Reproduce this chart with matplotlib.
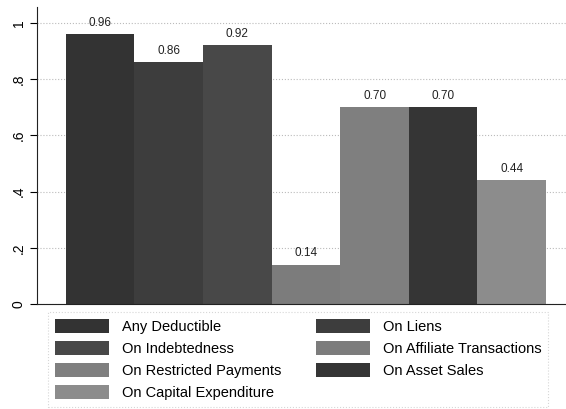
import numpy as np
import matplotlib.pyplot as plt

plt.rcParams['font.family'] = ['Liberation Sans', 'DejaVu Sans']

# data
labels = ['Any Deductible', 'On Liens', 'On Indebtedness',
          'On Affiliate Transactions', 'On Restricted Payments',
          'On Asset Sales', 'On Capital Expenditure']
values = [0.96, 0.86, 0.92, 0.14, 0.70, 0.70, 0.44]
colors = ['#333333', '#3d3d3d', '#484848', '#7c7c7c', '#7f7f7f', '#353535', '#8c8c8c']

yticks = [0, 0.2, 0.4, 0.6, 0.8, 1.0]
ytick_labels = ['0', '.2', '.4', '.6', '.8', '1']

fig = plt.figure(figsize=(5.66, 4.09), dpi=100)
ax = fig.add_axes([37/566, 105/409, 529/566, 297/409])

x = np.arange(len(values))
bars = []
for i in range(len(values)):
    b = ax.bar(x[i], values[i], width=1.0, color=colors[i], label=labels[i],
               zorder=2, linewidth=0)
    bars.append(b)
    ax.bar_label(b, fmt='%.2f', padding=4, fontsize=8.5, color='#222222')

ax.set_xlim(-0.92, 6.79)
ax.set_ylim(0, 1.057)
ax.set_yticks(yticks)
ax.set_yticklabels(ytick_labels, rotation=90, va='center', fontsize=10)
ax.set_xticks([])
ax.tick_params(axis='y', length=5, width=0.8, pad=3)
ax.yaxis.grid(True, linestyle=':', color='#bbbbbb', linewidth=0.8, zorder=0)

ax.spines['top'].set_visible(False)
ax.spines['right'].set_visible(False)
ax.spines['left'].set_color('#222222')
ax.spines['bottom'].set_color('#222222')

# Stata fills legend row-wise; matplotlib fills column-wise
order = [0, 2, 4, 6, 1, 3, 5]
handles = [bars[i] for i in order]
names = [labels[i] for i in order]
leg = fig.legend(handles, names, ncol=2, loc='upper left',
                 bbox_to_anchor=(48/566, (409-312)/409),
                 fontsize=10.5, handlelength=3.7, handleheight=1.1,
                 handletextpad=0.9, labelspacing=0.5, borderaxespad=0,
                 borderpad=0.45, fancybox=False, frameon=True, columnspacing=2.4)
leg.get_frame().set_edgecolor('#cccccc')
leg.get_frame().set_linestyle(':')
leg.get_frame().set_linewidth(0.8)

fig.savefig('out.png', dpi=100)
